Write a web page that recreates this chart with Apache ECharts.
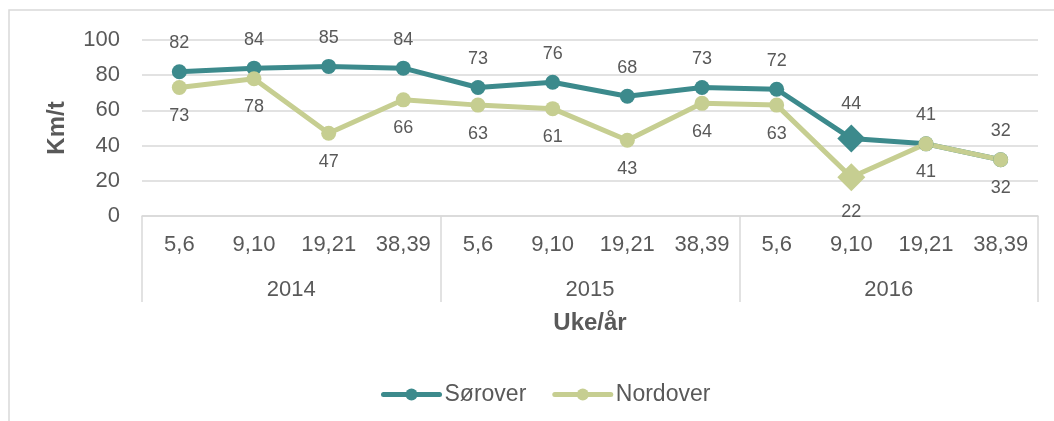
<!DOCTYPE html>
<html>
<head>
<meta charset="utf-8">
<script src="https://cdn.jsdelivr.net/npm/echarts@6/dist/echarts.min.js"></script>
<style>
  html, body { margin: 0; padding: 0; background: #fff; }
  #chart { width: 1054px; height: 421px; }
</style>
</head>
<body>
<div id="chart"></div>
<script>
const weeks = ['5,6', '9,10', '19,21', '38,39', '5,6', '9,10', '19,21', '38,39', '5,6', '9,10', '19,21', '38,39']
const years = ['2014', '2015', '2016']
const sorover = [82, 84, 85, 84, 73, 76, 68, 73, 72, 44, 41, 32]
const nordover = [73, 78, 47, 66, 63, 61, 43, 64, 63, 22, 41, 32]
const highlightIndex = 9

const textColor = '#595959'
const lineGray = '#d9d9d9'
const font = 'Liberation Sans, Arial, sans-serif'

const makeData = (values) => values.map((v, i) => {
  if (i === highlightIndex) {
    return { value: v, symbol: 'diamond', symbolSize: 28 }
  }
  return v
})

const makeSeries = (name, values, color, labelPos) => ({
  name: name,
  type: 'line',
  data: makeData(values),
  symbol: 'circle',
  symbolSize: 15,
  lineStyle: { color: color, width: 5 },
  itemStyle: { color: color },
  label: {
    show: true,
    position: labelPos,
    distance: 12,
    color: textColor,
    fontSize: 18,
    fontFamily: font
  },
  z: 2
})

const chart = echarts.init(document.getElementById('chart'))
chart.setOption({
  animation: false,
  textStyle: { fontFamily: font },
  graphic: [{
    type: 'rect',
    shape: { x: 9, y: 10, width: 1200, height: 600 },
    style: { fill: 'none', stroke: lineGray, lineWidth: 1.5 },
    silent: true
  }],
  grid: { left: 142, right: 16, top: 40, bottom: 205 },
  legend: {
    data: ['Sørover', 'Nordover'],
    left: 376,
    top: 378,
    itemWidth: 56,
    itemHeight: 15,
    itemGap: 26,
    lineStyle: { width: 5, cap: 'round' },
    textStyle: { color: textColor, fontSize: 23, fontFamily: font }
  },
  xAxis: [{
    type: 'category',
    data: weeks,
    boundaryGap: true,
    axisLine: { show: true, lineStyle: { color: lineGray, width: 1.5 } },
    axisTick: { show: false },
    axisLabel: { interval: 0, margin: 18, color: textColor, fontSize: 22, fontFamily: font }
  }, {
    type: 'category',
    data: years,
    position: 'bottom',
    boundaryGap: true,
    axisLine: { show: false },
    axisTick: { show: true, interval: 0, length: 86, lineStyle: { color: lineGray, width: 1.5 } },
    axisLabel: { interval: 0, margin: 63, color: textColor, fontSize: 22, fontFamily: font },
    name: 'Uke/år',
    nameLocation: 'middle',
    nameGap: 95,
    nameTextStyle: { color: textColor, fontSize: 24, fontWeight: 'bold', fontFamily: font }
  }],
  yAxis: {
    type: 'value',
    min: 0,
    max: 100,
    interval: 20,
    axisLine: { show: false },
    axisTick: { show: false },
    splitLine: { lineStyle: { color: lineGray, width: 1.5 } },
    axisLabel: { margin: 22, color: textColor, fontSize: 22, fontFamily: font },
    name: 'Km/t',
    nameLocation: 'middle',
    nameGap: 73,
    nameTextStyle: { color: textColor, fontSize: 24, fontWeight: 'bold', fontFamily: font }
  },
  series: [
    makeSeries('Sørover', sorover, '#3c8a8c', 'top'),
    makeSeries('Nordover', nordover, '#c6ce91', 'bottom')
  ]
})
</script>
</body>
</html>
